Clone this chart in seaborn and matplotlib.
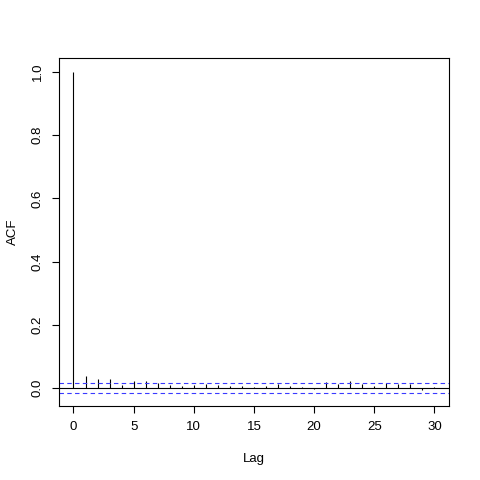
import matplotlib
matplotlib.use("Agg")
import matplotlib.pyplot as plt
import numpy as np
import pandas as pd
import seaborn as sns

# %% Data
lags = list(range(0, 31))
acf_values = [
    1.000, 0.038, 0.030, 0.030, 0.011, 0.023, 0.021, 0.017, 0.011, 0.008,
    0.011, 0.013, 0.011, 0.008, 0.006, 0.004, 0.008, 0.013, 0.008, 0.004,
    -0.003, 0.019, 0.013, 0.021, 0.013, 0.008, 0.017, 0.013, 0.013, -0.006,
    0.003,
]
conf_bound = 0.016
x_ticks = [0, 5, 10, 15, 20, 25, 30]
y_ticks = [0.0, 0.2, 0.4, 0.6, 0.8, 1.0]

df = pd.DataFrame({"lag": lags, "acf": acf_values})

# %% Plot
sns.set_style("white", {"text.color": "black", "axes.labelcolor": "black",
                        "xtick.color": "black", "ytick.color": "black"})
plt.rcParams["font.family"] = ["Liberation Sans", "DejaVu Sans"]

fig = plt.figure(figsize=(4.8, 4.8), dpi=100)
ax = fig.add_axes([0.123, 0.154, 0.812, 0.725])

ax.vlines(df["lag"], 0, df["acf"], color="black", linewidth=0.8)
ax.axhline(0, color="black", linewidth=0.8)
for b in (conf_bound, -conf_bound):
    ax.axhline(b, color="#3a3aff", linewidth=0.8, linestyle=(0, (4, 3)))

ax.set_xlim(-1.2, 31.2)
ax.set_ylim(-0.057, 1.044)
ax.set_xticks(x_ticks)
ax.set_yticks(y_ticks)
ax.set_yticklabels([f"{v:.1f}" for v in y_ticks], rotation=90, va="center")
ax.tick_params(axis="both", direction="out", length=5, width=0.8,
               labelsize=9.5, color="black", labelcolor="black", pad=6,
               left=True, bottom=True)
for side in ax.spines.values():
    side.set_visible(True)
    side.set_color("black")
    side.set_linewidth(0.8)

ax.set_xlabel("Lag", fontsize=9.5, labelpad=14, color="black")
ax.set_ylabel("ACF", fontsize=9.5, labelpad=9, color="black")

fig.savefig("out.png", dpi=100)
plt.close(fig)
